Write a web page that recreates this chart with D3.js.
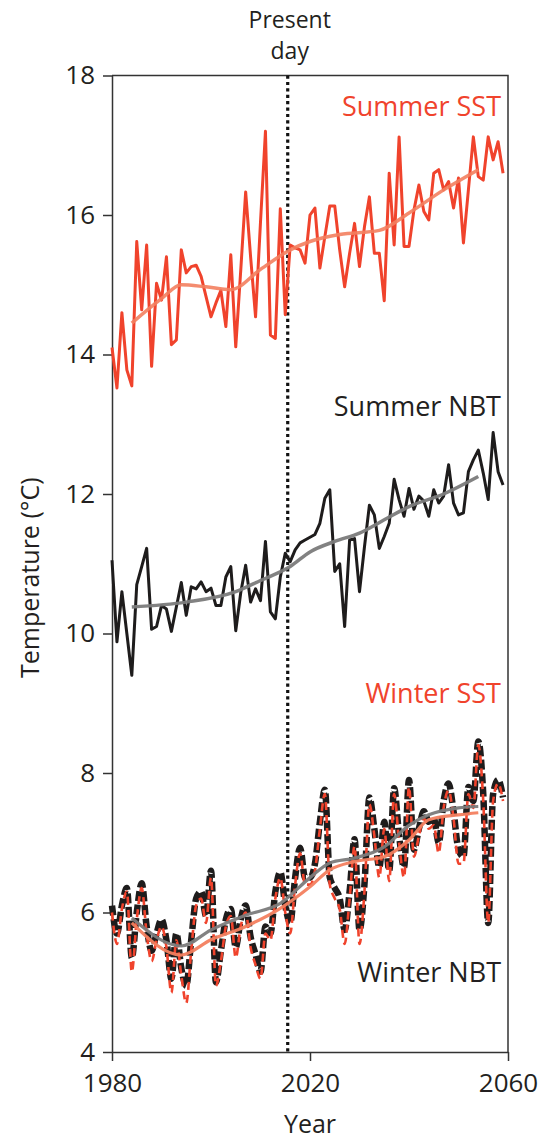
<!DOCTYPE html>
<html><head><meta charset="utf-8">
<script src="https://cdn.jsdelivr.net/npm/d3@7"></script>
<style>body{margin:0;background:#fff}svg{display:block}text{font-family:"Open Sans","Noto Sans",sans-serif}</style>
</head><body>
<script>
const years = d3.range(1980, 2060);
const xTicks = [1980, 2020, 2060];
const yTicks = [4, 6, 8, 10, 12, 14, 16, 18];
const presentDay = 2015.5;

const summerSST = [14.1,13.52,14.6,13.78,13.55,15.62,14.64,15.57,13.83,15.02,
14.78,15.4,14.14,14.21,15.5,15.17,15.26,15.28,15.12,14.83,
14.54,14.74,14.92,14.4,15.43,14.11,15.2,16.33,15.4,14.54,
15.9,17.2,14.28,14.23,16.09,14.57,15.57,15.53,15.5,15.31,
16.0,16.1,15.24,15.69,16.13,16.13,15.5,14.97,15.45,15.88,
15.26,15.83,16.26,15.45,15.45,14.77,16.6,15.57,17.12,15.55,
15.55,16.07,16.43,16.05,15.93,16.6,16.65,16.36,16.48,16.1,
16.53,15.6,16.36,17.12,16.55,16.5,17.12,16.79,17.05,16.6];

const summerNBT = [11.05,9.88,10.6,10.0,9.4,10.7,10.96,11.22,10.06,10.1,
10.4,10.35,10.03,10.38,10.73,10.26,10.67,10.64,10.74,10.6,
10.65,10.4,10.4,10.81,10.96,10.04,10.58,10.98,10.45,10.64,
10.47,11.32,10.31,10.21,10.81,11.15,11.03,11.2,11.3,11.34,
11.38,11.42,11.58,11.94,12.06,10.89,11.0,10.1,11.34,11.36,
10.6,11.24,11.84,11.7,11.22,11.39,11.58,12.21,11.92,11.68,
12.08,11.78,11.97,11.9,11.68,12.06,11.87,11.97,12.42,11.87,
11.7,11.73,12.32,12.49,12.63,12.3,11.92,12.88,12.32,12.13];

const winterNBT = [6.1,5.7,6.1,6.35,5.35,6.0,6.42,5.8,5.45,5.7,
5.9,5.6,5.05,5.7,5.2,4.95,5.6,6.2,6.3,5.95,
6.6,5.0,5.45,5.9,6.05,5.5,5.9,6.1,5.65,5.4,
5.15,5.8,5.7,6.3,6.58,6.1,5.85,6.5,6.93,6.5,
6.5,6.7,7.3,7.76,6.5,6.35,6.2,5.75,6.3,7.05,
5.75,6.4,7.65,7.2,6.65,7.3,6.6,7.78,7.1,6.65,
7.9,6.9,7.2,7.45,7.3,7.35,7.0,7.6,7.85,7.45,
6.9,6.8,7.8,7.6,8.45,7.7,5.85,7.7,7.9,7.65];

const winterSST = [6.0,5.55,6.05,6.3,5.15,5.9,6.35,5.7,5.3,5.6,
5.8,5.5,4.85,5.6,5.1,4.7,5.45,6.1,6.2,5.85,
6.5,4.95,5.3,5.8,5.95,5.35,5.8,6.0,5.5,5.25,
5.05,5.7,5.6,6.2,6.5,6.0,5.7,6.4,6.85,6.4,
6.4,6.6,7.2,7.7,6.4,6.2,6.05,5.55,6.2,6.95,
5.55,6.3,7.55,7.1,6.5,7.2,6.45,7.7,7.0,6.5,
7.8,6.8,7.1,7.35,7.2,7.25,6.85,7.5,7.75,7.35,
6.7,6.7,7.7,7.5,8.4,7.6,5.85,7.6,7.85,7.6];

const summerSSTTrendYears = [1984,1990,1994,1999,2004,2010,2016,2020,2026,2034,2040,2047,2054];
const summerSSTTrend = [14.45,14.8,15.0,14.97,14.93,15.22,15.5,15.62,15.72,15.78,16.03,16.36,16.65];
const summerNBTTrendYears = [1984,1995,2005,2010,2016,2020,2025,2030,2035,2040,2047,2054];
const summerNBTTrend = [10.38,10.45,10.6,10.76,10.96,11.17,11.32,11.44,11.63,11.82,12.0,12.25];
const winterTrendYears = [1984,1994,2000,2007,2014,2020,2024,2029,2035,2040,2044,2050,2054];
const winterNBTTrend = [5.92,5.52,5.75,5.96,6.13,6.5,6.71,6.78,6.94,7.25,7.4,7.5,7.52];
const winterSSTTrend = [5.85,5.39,5.61,5.8,6.06,6.37,6.61,6.73,6.8,7.04,7.33,7.4,7.43];

const W = 546, H = 1142;
const x = d3.scaleLinear().domain([1980, 2060]).range([112, 508]);
const y = d3.scaleLinear().domain([4, 18]).range([1052, 75.5]);
const RED = "#f0432c", SALMON = "#f3805f", BLACK = "#1e1c1c", GREY = "#7b7b7b", AX = "#333", TXT = "#231f20";
const FONT = "'Open Sans','Noto Sans',sans-serif";

const svg = d3.select("body").append("svg").attr("width", W).attr("height", H);

// axes
const gy = svg.append("g").attr("transform", `translate(${x(1980)},0)`)
  .call(d3.axisLeft(y).tickValues(yTicks).tickSize(9).tickSizeOuter(0).tickPadding(8).tickFormat(d3.format("d")));
const gx = svg.append("g").attr("transform", `translate(0,${y(4)})`)
  .call(d3.axisBottom(x).tickValues(xTicks).tickSize(9).tickSizeOuter(0).tickPadding(13).tickFormat(d3.format("d")));
[gx, gy].forEach(g => {
  g.selectAll("path.domain").attr("stroke", AX).attr("stroke-width", 1.5);
  g.selectAll("line").attr("stroke", AX).attr("stroke-width", 1.5);
  g.selectAll("text").attr("font-size", 26).attr("fill", TXT).attr("font-family", FONT);
});
// frame top & right
svg.append("path").attr("fill", "none").attr("stroke", AX).attr("stroke-width", 1.5)
  .attr("d", `M${x(1980)},${y(18)}H${x(2060)}V${y(4)}`);

const line = (xs, vs, curve) => d3.line().x((d, i) => x(xs[i])).y(d => y(d)).curve(curve)(vs);

// present day
svg.append("line").attr("x1", x(presentDay)).attr("x2", x(presentDay)).attr("y1", y(18)).attr("y2", y(4))
  .attr("stroke", "#111").attr("stroke-width", 3.2).attr("stroke-dasharray", "3.2,3.2");

// summer SST
svg.append("path").attr("d", line(years, summerSST, d3.curveLinear))
  .attr("fill", "none").attr("stroke", RED).attr("stroke-width", 3).attr("stroke-linejoin", "round");
svg.append("path").attr("d", line(summerSSTTrendYears, summerSSTTrend, d3.curveMonotoneX))
  .attr("fill", "none").attr("stroke", SALMON).attr("stroke-width", 3.5).attr("opacity", 0.9);

// summer NBT
svg.append("path").attr("d", line(years, summerNBT, d3.curveLinear))
  .attr("fill", "none").attr("stroke", BLACK).attr("stroke-width", 3).attr("stroke-linejoin", "round");
svg.append("path").attr("d", line(summerNBTTrendYears, summerNBTTrend, d3.curveMonotoneX))
  .attr("fill", "none").attr("stroke", GREY).attr("stroke-width", 3.5).attr("opacity", 0.95);

// winter
svg.append("path").attr("d", line(years, winterNBT, d3.curveMonotoneX))
  .attr("fill", "none").attr("stroke", BLACK).attr("stroke-width", 6.5).attr("stroke-dasharray", "10,3.5").attr("stroke-linecap", "butt");
svg.append("path").attr("d", line(years, winterSST, d3.curveMonotoneX))
  .attr("fill", "none").attr("stroke", RED).attr("stroke-width", 2.6).attr("stroke-dasharray", "8,5");
svg.append("path").attr("d", line(winterTrendYears, winterNBTTrend, d3.curveMonotoneX))
  .attr("fill", "none").attr("stroke", GREY).attr("stroke-width", 3.2).attr("opacity", 0.95);
svg.append("path").attr("d", line(winterTrendYears, winterSSTTrend, d3.curveMonotoneX))
  .attr("fill", "none").attr("stroke", SALMON).attr("stroke-width", 3.2).attr("opacity", 0.95);

// labels
const lab = (t, xx, yy, c) => svg.append("text").attr("x", xx).attr("y", yy).attr("text-anchor", "end")
  .attr("font-size", 27).attr("fill", c).text(t);
lab("Summer SST", 501, 116, RED);
lab("Summer NBT", 501, 416, TXT);
lab("Winter SST", 501, 703, RED);
lab("Winter NBT", 501, 982, TXT);

svg.append("text").attr("x", x(presentDay) + 2).attr("y", 28).attr("text-anchor", "middle").attr("font-size", 23).attr("fill", TXT).text("Present");
svg.append("text").attr("x", x(presentDay) + 2).attr("y", 59).attr("text-anchor", "middle").attr("font-size", 23).attr("fill", TXT).text("day");
svg.append("text").attr("x", 310).attr("y", 1133).attr("text-anchor", "middle").attr("font-size", 25).attr("fill", TXT).text("Year");
svg.append("text").attr("transform", `translate(39,${y(10.8)}) rotate(-90)`).attr("text-anchor", "middle").attr("font-size", 25).attr("fill", TXT).text("Temperature (°C)");
</script>
</body></html>
